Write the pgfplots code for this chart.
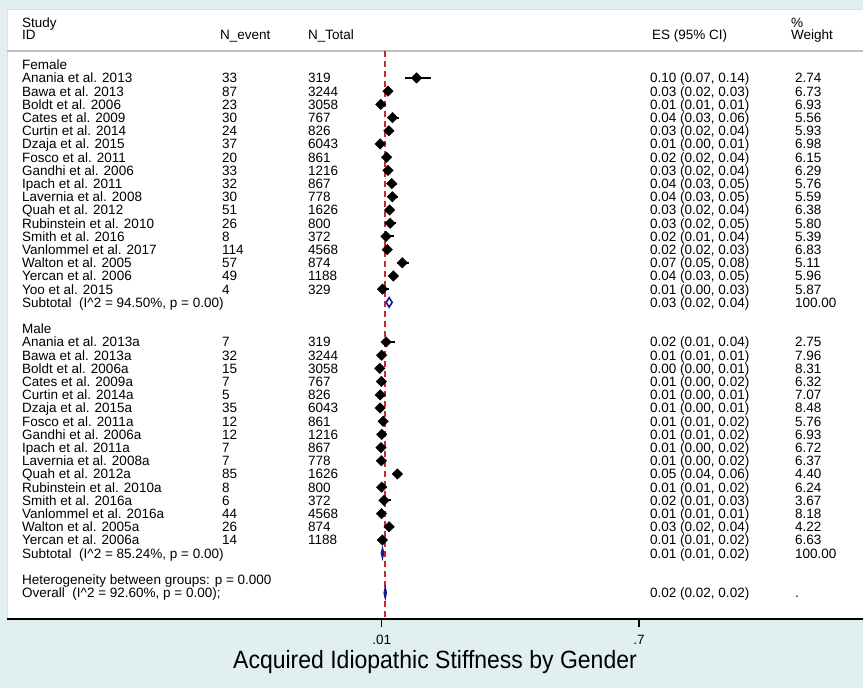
\documentclass[border=0pt]{standalone}
\usepackage{pgfplots}
\pgfplotsset{compat=1.18}
\usepackage{pgfplotstable}
\usepackage{fontspec}
\setmainfont{Liberation Sans}
\definecolor{bgc}{RGB}{226,239,240}
\definecolor{redl}{RGB}{200,40,50}
\definecolor{navyc}{RGB}{25,25,140}

\pgfplotstableread{
row es lo hi
0 0.1034 0.072 0.141
1 0.0268 0.0213 0.0324
2 0.0075 0.0050 0.0110
3 0.0391 0.0275 0.0553
4 0.0291 0.0196 0.0428
5 0.0061 0.0044 0.0084
6 0.0232 0.0151 0.0356
7 0.0271 0.0194 0.0379
8 0.0369 0.0263 0.0517
9 0.0386 0.0272 0.0545
10 0.0314 0.0239 0.0411
11 0.0325 0.0223 0.0472
12 0.0215 0.0109 0.0419
13 0.0250 0.0208 0.0299
14 0.0652 0.0506 0.0836
15 0.0412 0.0313 0.0542
16 0.0122 0.0047 0.0309
}\female

\pgfplotstableread{
row es lo hi
20 0.0219 0.0106 0.0446
21 0.0099 0.0070 0.0139
22 0.0049 0.0030 0.0081
23 0.0091 0.0044 0.0187
24 0.0061 0.0026 0.0141
25 0.0058 0.0042 0.0080
26 0.0139 0.0080 0.0242
27 0.0099 0.0057 0.0172
28 0.0081 0.0039 0.0166
29 0.0090 0.0044 0.0185
30 0.0523 0.0424 0.0643
31 0.0100 0.0051 0.0196
32 0.0161 0.0074 0.0347
33 0.0096 0.0072 0.0129
34 0.0297 0.0204 0.0432
35 0.0118 0.0070 0.0197
}\male

\newcommand{\rowtext}[6]{%
  \node[anchor=base west] at (22,{82.85+13.2*#1}) {#2};
  \node[anchor=base west] at (222,{82.85+13.2*#1}) {#3};
  \node[anchor=base west] at (308,{82.85+13.2*#1}) {#4};
  \node[anchor=base west] at (650,{82.85+13.2*#1}) {#5};
  \node[anchor=base west] at (795,{82.85+13.2*#1}) {#6};
}

\begin{document}
\begin{tikzpicture}[x=1bp,y=1bp]
\fill[bgc] (0,0) rectangle (863,688);
\useasboundingbox (0,0) rectangle (863,688);
\begin{scope}[y=-1bp, yshift=688bp]
  \fill[white] (7,10) rectangle (863,619);
  \draw[gray!25, line width=1bp] (7,619) -- (7,10) -- (863,10);
  \draw[gray!50, line width=1.5bp] (7,51) -- (863,51);
\end{scope}

\begin{axis}[
  at={(7bp,69bp)}, anchor=south west,
  scale only axis, width=856bp, height=609bp,
  xmin=-0.9948, xmax=1.3007,
  ymin=-40.9848, ymax=5.1515,
  axis x line=bottom, axis y line=none,
  axis line style={-, line width=1.8bp, black},
  xtick={0.01,0.7},
  xticklabels={.01,.7},
  /pgf/number format/assume math mode=true,
  tick style={black, line width=1.3bp},
  major tick length=8bp, tick align=outside,
  xticklabel style={font=\fontsize{13.5bp}{13.5bp}\selectfont, anchor=base, yshift=-18bp},
  clip=false,
]
\addplot[redl, line width=1.6bp, dash pattern=on 6bp off 4bp] coordinates {(0.0195,2.05) (0.0195,-40.9848)};

% confidence intervals
\addplot[only marks, mark=none, black, forget plot,
  error bars/.cd, x dir=both, x explicit, error mark=none,
  error bar style={line width=2bp, black}]
  table[x=es, y expr=-\thisrow{row}, x error plus expr=\thisrow{hi}-\thisrow{es}, x error minus expr=\thisrow{es}-\thisrow{lo}] {\female};
\addplot[only marks, mark=none, black, forget plot,
  error bars/.cd, x dir=both, x explicit, error mark=none,
  error bar style={line width=2bp, black}]
  table[x=es, y expr=-\thisrow{row}, x error plus expr=\thisrow{hi}-\thisrow{es}, x error minus expr=\thisrow{es}-\thisrow{lo}] {\male};

% point estimates
\addplot[only marks, mark=square*, mark size=3.7bp, mark options={rotate=45, fill=black, draw=black, line width=0.4bp}]
  table[x=es, y expr=-\thisrow{row}] {\female};
\addplot[only marks, mark=square*, mark size=3.7bp, mark options={rotate=45, fill=black, draw=black, line width=0.4bp}]
  table[x=es, y expr=-\thisrow{row}] {\male};

% pooled diamonds
\addplot[navyc, line width=1.6bp, fill=white] coordinates {(0.022,-17) (0.030,-16.64) (0.038,-17) (0.030,-17.36) (0.022,-17)};
\addplot[navyc, line width=1.2bp, fill=navyc] coordinates {(0.0088,-36) (0.0122,-35.6) (0.0156,-36) (0.0122,-36.4) (0.0088,-36)};
\addplot[navyc, line width=1.2bp, fill=navyc] coordinates {(0.0163,-39) (0.0195,-38.56) (0.0227,-39) (0.0195,-39.44) (0.0163,-39)};
\end{axis}

\begin{scope}[y=-1bp, yshift=688bp, every node/.style={inner sep=0pt, font=\fontsize{13.5bp}{13.2bp}\selectfont}]
  % header
  \node[anchor=base west] at (22,27.85) {Study};
  \node[anchor=base west] at (22,39.85) {ID};
  \node[anchor=base west] at (220,39.85) {N\_event};
  \node[anchor=base west] at (308,39.85) {N\_Total};
  \node[anchor=base west] at (652,39.85) {ES (95\% CI)};
  \node[anchor=base west] at (791,27.85) {\%};
  \node[anchor=base west] at (791,39.85) {Weight};
  % female
  \node[anchor=base west] at (22,{82.85-13.2}) {Female};
  \rowtext{0}{Anania et al. 2013}{33}{319}{0.10 (0.07, 0.14)}{2.74}
  \rowtext{1}{Bawa et al. 2013}{87}{3244}{0.03 (0.02, 0.03)}{6.73}
  \rowtext{2}{Boldt et al. 2006}{23}{3058}{0.01 (0.01, 0.01)}{6.93}
  \rowtext{3}{Cates et al. 2009}{30}{767}{0.04 (0.03, 0.06)}{5.56}
  \rowtext{4}{Curtin et al. 2014}{24}{826}{0.03 (0.02, 0.04)}{5.93}
  \rowtext{5}{Dzaja et al. 2015}{37}{6043}{0.01 (0.00, 0.01)}{6.98}
  \rowtext{6}{Fosco et al. 2011}{20}{861}{0.02 (0.02, 0.04)}{6.15}
  \rowtext{7}{Gandhi et al. 2006}{33}{1216}{0.03 (0.02, 0.04)}{6.29}
  \rowtext{8}{Ipach et al. 2011}{32}{867}{0.04 (0.03, 0.05)}{5.76}
  \rowtext{9}{Lavernia et al. 2008}{30}{778}{0.04 (0.03, 0.05)}{5.59}
  \rowtext{10}{Quah et al. 2012}{51}{1626}{0.03 (0.02, 0.04)}{6.38}
  \rowtext{11}{Rubinstein et al. 2010}{26}{800}{0.03 (0.02, 0.05)}{5.80}
  \rowtext{12}{Smith et al. 2016}{8}{372}{0.02 (0.01, 0.04)}{5.39}
  \rowtext{13}{Vanlommel et al. 2017}{114}{4568}{0.02 (0.02, 0.03)}{6.83}
  \rowtext{14}{Walton et al. 2005}{57}{874}{0.07 (0.05, 0.08)}{5.11}
  \rowtext{15}{Yercan et al. 2006}{49}{1188}{0.04 (0.03, 0.05)}{5.96}
  \rowtext{16}{Yoo et al. 2015}{4}{329}{0.01 (0.00, 0.03)}{5.87}
  \rowtext{17}{Subtotal\ \ (I\textasciicircum 2 = 94.50\%, p = 0.00)}{}{}{0.03 (0.02, 0.04)}{100.00}
  % male
  \node[anchor=base west] at (22,{82.85+13.2*19}) {Male};
  \rowtext{20}{Anania et al. 2013a}{7}{319}{0.02 (0.01, 0.04)}{2.75}
  \rowtext{21}{Bawa et al. 2013a}{32}{3244}{0.01 (0.01, 0.01)}{7.96}
  \rowtext{22}{Boldt et al. 2006a}{15}{3058}{0.00 (0.00, 0.01)}{8.31}
  \rowtext{23}{Cates et al. 2009a}{7}{767}{0.01 (0.00, 0.02)}{6.32}
  \rowtext{24}{Curtin et al. 2014a}{5}{826}{0.01 (0.00, 0.01)}{7.07}
  \rowtext{25}{Dzaja et al. 2015a}{35}{6043}{0.01 (0.00, 0.01)}{8.48}
  \rowtext{26}{Fosco et al. 2011a}{12}{861}{0.01 (0.01, 0.02)}{5.76}
  \rowtext{27}{Gandhi et al. 2006a}{12}{1216}{0.01 (0.01, 0.02)}{6.93}
  \rowtext{28}{Ipach et al. 2011a}{7}{867}{0.01 (0.00, 0.02)}{6.72}
  \rowtext{29}{Lavernia et al. 2008a}{7}{778}{0.01 (0.00, 0.02)}{6.37}
  \rowtext{30}{Quah et al. 2012a}{85}{1626}{0.05 (0.04, 0.06)}{4.40}
  \rowtext{31}{Rubinstein et al. 2010a}{8}{800}{0.01 (0.01, 0.02)}{6.24}
  \rowtext{32}{Smith et al. 2016a}{6}{372}{0.02 (0.01, 0.03)}{3.67}
  \rowtext{33}{Vanlommel et al. 2016a}{44}{4568}{0.01 (0.01, 0.01)}{8.18}
  \rowtext{34}{Walton et al. 2005a}{26}{874}{0.03 (0.02, 0.04)}{4.22}
  \rowtext{35}{Yercan et al. 2006a}{14}{1188}{0.01 (0.01, 0.02)}{6.63}
  \rowtext{36}{Subtotal\ \ (I\textasciicircum 2 = 85.24\%, p = 0.00)}{}{}{0.01 (0.01, 0.02)}{100.00}
  \rowtext{38}{Heterogeneity between groups: p = 0.000}{}{}{}{}
  \rowtext{39}{Overall\ \ (I\textasciicircum 2 = 92.60\%, p = 0.00);}{}{}{0.02 (0.02, 0.02)}{.}
  % title
  \node[anchor=base, font=\fontsize{25bp}{25bp}\selectfont, xscale=0.92] at (435,669) {Acquired Idiopathic Stiffness by Gender};
\end{scope}
\end{tikzpicture}
\end{document}
